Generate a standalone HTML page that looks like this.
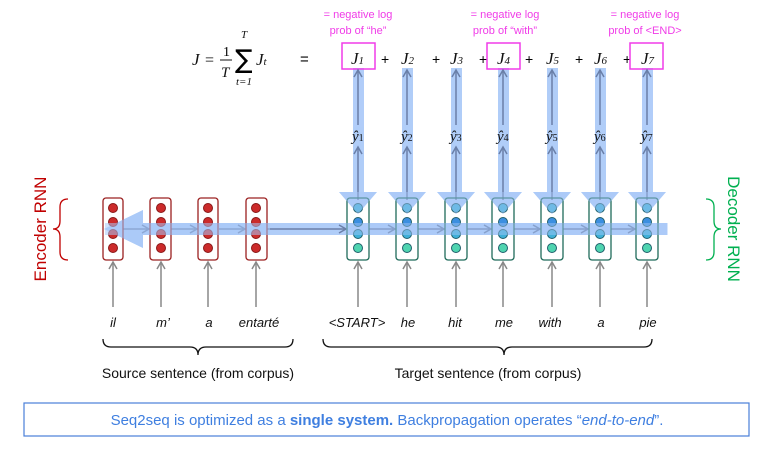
<!DOCTYPE html>
<html><head><meta charset="utf-8"><style>
body{margin:0;background:#fff;}
svg{display:block;font-family:"Liberation Sans",sans-serif;}
.w{font-style:italic;font-size:13px;fill:#111;text-anchor:middle;}
.m{font-family:"Liberation Serif",serif;font-style:italic;fill:#111;}
.p{fill:#111;text-anchor:middle;}
.pk{font-size:11px;fill:#f03ce8;text-anchor:middle;}
</style></head><body>
<svg width="774" height="453" viewBox="0 0 774 453">
<defs>
<marker id="ga" markerWidth="10" markerHeight="10" refX="8" refY="5" orient="auto" markerUnits="userSpaceOnUse"><path d="M1,1 L8,5 L1,9" fill="none" stroke="#888" stroke-width="1.5"/></marker>
<marker id="ba" markerWidth="10" markerHeight="10" refX="8" refY="5" orient="auto" markerUnits="userSpaceOnUse"><path d="M1,1 L8,5 L1,9" fill="none" stroke="#6a7fa8" stroke-width="1.5"/></marker>
</defs>
<!-- formula -->
<text x="192" y="65" class="m" style="font-size:17px">J</text>
<text x="205" y="65" style="font-family:'Liberation Serif';font-size:16px">=</text>
<text x="223" y="56" style="font-family:'Liberation Serif';font-size:14px">1</text>
<line x1="220" y1="60" x2="232" y2="60" stroke="#111"/>
<text x="221" y="77" class="m" style="font-size:15px">T</text>
<text x="235" y="68" style="font-family:'DejaVu Sans';font-size:26px">∑</text>
<text x="241" y="38" class="m" style="font-size:11px">T</text>
<text x="236" y="85" class="m" style="font-size:11px">t=1</text>
<text x="256" y="65" class="m" style="font-size:17px">J<tspan style="font-size:11px">t</tspan></text>
<text x="300" y="64" style="font-size:15px">=</text>
<!-- blue columns -->
<g fill="#a8c8f8" opacity="0.9">
<rect x="353" y="68" width="11" height="126"/><polygon points="339,192 377,192 358,214"/>
<rect x="402" y="68" width="11" height="126"/><polygon points="388,192 426,192 407,214"/>
<rect x="451" y="68" width="11" height="126"/><polygon points="437,192 475,192 456,214"/>
<rect x="498" y="68" width="11" height="126"/><polygon points="484,192 522,192 503,214"/>
<rect x="547" y="68" width="11" height="126"/><polygon points="533,192 571,192 552,214"/>
<rect x="595" y="68" width="11" height="126"/><polygon points="581,192 619,192 600,214"/>
<rect x="642" y="68" width="11" height="126"/><polygon points="628,192 666,192 647,214"/>
<rect x="130" y="223" width="537" height="12"/>
<polygon points="104,229 143,210 143,248"/>
</g>
<!-- J terms -->
<g class="m" style="font-size:17px">
<text x="351" y="64">J<tspan style="font-size:11px">1</tspan></text>
<text x="401" y="64">J<tspan style="font-size:11px">2</tspan></text>
<text x="450" y="64">J<tspan style="font-size:11px">3</tspan></text>
<text x="497" y="64">J<tspan style="font-size:11px">4</tspan></text>
<text x="546" y="64">J<tspan style="font-size:11px">5</tspan></text>
<text x="594" y="64">J<tspan style="font-size:11px">6</tspan></text>
<text x="641" y="64">J<tspan style="font-size:11px">7</tspan></text>
</g>
<g style="font-size:14px"><text x="381" y="64">+</text><text x="432" y="64">+</text><text x="479" y="64">+</text><text x="525" y="64">+</text><text x="575" y="64">+</text><text x="623" y="64">+</text></g>
<g fill="none" stroke="#f03ce8" stroke-width="1.5">
<rect x="342" y="43" width="33" height="26"/><rect x="487" y="43" width="33" height="26"/><rect x="630" y="43" width="33" height="26"/>
</g>
<text x="358" y="18" class="pk">= negative log</text><text x="358" y="34" class="pk">prob of “he”</text>
<text x="505" y="18" class="pk">= negative log</text><text x="505" y="34" class="pk">prob of “with”</text>
<text x="645" y="18" class="pk">= negative log</text><text x="645" y="34" class="pk">prob of &lt;END&gt;</text>
<!-- vertical arrows & yhat -->
<g stroke="#6a7fa8" stroke-width="1.5">
<line x1="358" y1="125" x2="358" y2="70" marker-end="url(#ba)"/><line x1="358" y1="200" x2="358" y2="147" marker-end="url(#ba)"/>
<line x1="407" y1="125" x2="407" y2="70" marker-end="url(#ba)"/><line x1="407" y1="200" x2="407" y2="147" marker-end="url(#ba)"/>
<line x1="456" y1="125" x2="456" y2="70" marker-end="url(#ba)"/><line x1="456" y1="200" x2="456" y2="147" marker-end="url(#ba)"/>
<line x1="503" y1="125" x2="503" y2="70" marker-end="url(#ba)"/><line x1="503" y1="200" x2="503" y2="147" marker-end="url(#ba)"/>
<line x1="552" y1="125" x2="552" y2="70" marker-end="url(#ba)"/><line x1="552" y1="200" x2="552" y2="147" marker-end="url(#ba)"/>
<line x1="600" y1="125" x2="600" y2="70" marker-end="url(#ba)"/><line x1="600" y1="200" x2="600" y2="147" marker-end="url(#ba)"/>
<line x1="647" y1="125" x2="647" y2="70" marker-end="url(#ba)"/><line x1="647" y1="200" x2="647" y2="147" marker-end="url(#ba)"/>
</g>
<g class="m" style="font-size:15px">
<text x="352" y="141">ŷ<tspan style="font-size:10px;font-style:normal">1</tspan></text><text x="401" y="141">ŷ<tspan style="font-size:10px;font-style:normal">2</tspan></text>
<text x="450" y="141">ŷ<tspan style="font-size:10px;font-style:normal">3</tspan></text><text x="497" y="141">ŷ<tspan style="font-size:10px;font-style:normal">4</tspan></text>
<text x="546" y="141">ŷ<tspan style="font-size:10px;font-style:normal">5</tspan></text><text x="594" y="141">ŷ<tspan style="font-size:10px;font-style:normal">6</tspan></text>
<text x="641" y="141">ŷ<tspan style="font-size:10px;font-style:normal">7</tspan></text>
</g>
<!-- horizontal arrows -->
<g stroke="#6a7fa8" stroke-width="1.5">
<line x1="123" y1="229" x2="149" y2="229" marker-end="url(#ba)"/><line x1="171" y1="229" x2="197" y2="229" marker-end="url(#ba)"/>
<line x1="219" y1="229" x2="245" y2="229" marker-end="url(#ba)"/><line x1="267" y1="229" x2="346" y2="229" marker-end="url(#ba)"/>
<line x1="369" y1="229" x2="395" y2="229" marker-end="url(#ba)"/><line x1="418" y1="229" x2="444" y2="229" marker-end="url(#ba)"/>
<line x1="467" y1="229" x2="491" y2="229" marker-end="url(#ba)"/><line x1="514" y1="229" x2="540" y2="229" marker-end="url(#ba)"/>
<line x1="563" y1="229" x2="588" y2="229" marker-end="url(#ba)"/><line x1="611" y1="229" x2="635" y2="229" marker-end="url(#ba)"/>
</g>
<!-- encoder cells -->
<g fill="none" stroke="#9b2020" stroke-width="1.3">
<rect x="103" y="198" width="20" height="62" rx="3"/><rect x="150" y="198" width="21" height="62" rx="3"/>
<rect x="198" y="198" width="20" height="62" rx="3"/><rect x="246" y="198" width="21" height="62" rx="3"/>
</g>
<g fill="#cc2b2b" stroke="#8a1818" stroke-width="1">
<circle cx="113" cy="208" r="4.5"/><circle cx="113" cy="222" r="4.5"/><circle cx="113" cy="234" r="4.5"/><circle cx="113" cy="248" r="4.5"/>
<circle cx="161" cy="208" r="4.5"/><circle cx="161" cy="222" r="4.5"/><circle cx="161" cy="234" r="4.5"/><circle cx="161" cy="248" r="4.5"/>
<circle cx="208" cy="208" r="4.5"/><circle cx="208" cy="222" r="4.5"/><circle cx="208" cy="234" r="4.5"/><circle cx="208" cy="248" r="4.5"/>
<circle cx="256" cy="208" r="4.5"/><circle cx="256" cy="222" r="4.5"/><circle cx="256" cy="234" r="4.5"/><circle cx="256" cy="248" r="4.5"/>
</g>
<g fill="#a8c8f8" opacity="0.55"><rect x="105" y="223" width="165" height="12"/><polygon points="104,229 143,210 143,248"/></g>
<!-- decoder cells -->
<g fill="none" stroke="#1f6b5a" stroke-width="1.3">
<rect x="347" y="198" width="22" height="62" rx="3"/><rect x="396" y="198" width="22" height="62" rx="3"/>
<rect x="445" y="198" width="22" height="62" rx="3"/><rect x="492" y="198" width="22" height="62" rx="3"/>
<rect x="541" y="198" width="22" height="62" rx="3"/><rect x="589" y="198" width="22" height="62" rx="3"/>
<rect x="636" y="198" width="22" height="62" rx="3"/>
</g>
<g stroke="#1f5f6b" stroke-width="1">
<g fill="#3fb0d8"><circle cx="358" cy="208" r="4.5"/><circle cx="407" cy="208" r="4.5"/><circle cx="456" cy="208" r="4.5"/><circle cx="503" cy="208" r="4.5"/><circle cx="552" cy="208" r="4.5"/><circle cx="600" cy="208" r="4.5"/><circle cx="647" cy="208" r="4.5"/></g>
<g fill="#3c8fe0"><circle cx="358" cy="222" r="4.5"/><circle cx="407" cy="222" r="4.5"/><circle cx="456" cy="222" r="4.5"/><circle cx="503" cy="222" r="4.5"/><circle cx="552" cy="222" r="4.5"/><circle cx="600" cy="222" r="4.5"/><circle cx="647" cy="222" r="4.5"/></g>
<g fill="#3fb0d8"><circle cx="358" cy="234" r="4.5"/><circle cx="407" cy="234" r="4.5"/><circle cx="456" cy="234" r="4.5"/><circle cx="503" cy="234" r="4.5"/><circle cx="552" cy="234" r="4.5"/><circle cx="600" cy="234" r="4.5"/><circle cx="647" cy="234" r="4.5"/></g>
<g fill="#4fd4b0"><circle cx="358" cy="248" r="4.5"/><circle cx="407" cy="248" r="4.5"/><circle cx="456" cy="248" r="4.5"/><circle cx="503" cy="248" r="4.5"/><circle cx="552" cy="248" r="4.5"/><circle cx="600" cy="248" r="4.5"/><circle cx="647" cy="248" r="4.5"/></g>
</g>
<g fill="#a8c8f8" opacity="0.45">
<rect x="346" y="223" width="322" height="12"/>
<polygon points="339,192 377,192 358,214"/><polygon points="388,192 426,192 407,214"/><polygon points="437,192 475,192 456,214"/><polygon points="484,192 522,192 503,214"/><polygon points="533,192 571,192 552,214"/><polygon points="581,192 619,192 600,214"/><polygon points="628,192 666,192 647,214"/>
</g>
<!-- input arrows -->
<g stroke="#888" stroke-width="1.5">
<line x1="113" y1="307" x2="113" y2="262" marker-end="url(#ga)"/><line x1="161" y1="307" x2="161" y2="262" marker-end="url(#ga)"/>
<line x1="208" y1="307" x2="208" y2="262" marker-end="url(#ga)"/><line x1="256" y1="307" x2="256" y2="262" marker-end="url(#ga)"/>
<line x1="358" y1="307" x2="358" y2="262" marker-end="url(#ga)"/><line x1="407" y1="307" x2="407" y2="262" marker-end="url(#ga)"/>
<line x1="456" y1="307" x2="456" y2="262" marker-end="url(#ga)"/><line x1="503" y1="307" x2="503" y2="262" marker-end="url(#ga)"/>
<line x1="552" y1="307" x2="552" y2="262" marker-end="url(#ga)"/><line x1="600" y1="307" x2="600" y2="262" marker-end="url(#ga)"/>
<line x1="647" y1="307" x2="647" y2="262" marker-end="url(#ga)"/>
</g>
<g class="w">
<text x="113" y="327">il</text><text x="163" y="327">m’</text><text x="209" y="327">a</text><text x="259" y="327">entarté</text>
<text x="357" y="327">&lt;START&gt;</text><text x="408" y="327">he</text><text x="455" y="327">hit</text><text x="504" y="327">me</text>
<text x="550" y="327">with</text><text x="601" y="327">a</text><text x="648" y="327">pie</text>
</g>
<!-- braces -->
<g fill="none" stroke="#111" stroke-width="1.3">
<path d="M103,339 Q103,347 111,347 L190,347 Q198,347 198,355 Q198,347 206,347 L285,347 Q293,347 293,339"/>
<path d="M323,339 Q323,347 331,347 L496,347 Q504,347 504,355 Q504,347 512,347 L644,347 Q652,347 652,339"/>
</g>
<text x="198" y="378" class="p" style="font-size:14px">Source sentence (from corpus)</text>
<text x="488" y="378" class="p" style="font-size:14px">Target sentence (from corpus)</text>
<g fill="none" stroke-width="1.3">
<path d="M68,199 Q60,199 60,207 L60,221 Q60,229 53,229 Q60,229 60,237 L60,252 Q60,260 68,260" stroke="#c00000"/>
<path d="M706,199 Q714,199 714,207 L714,221 Q714,229 721,229 Q714,229 714,237 L714,252 Q714,260 706,260" stroke="#00b050"/>
</g>
<text transform="translate(46,229) rotate(-90)" text-anchor="middle" style="font-size:17px" fill="#c00000">Encoder RNN</text>
<text transform="translate(728,229) rotate(90)" text-anchor="middle" style="font-size:17px" fill="#00b050">Decoder RNN</text>
<rect x="24" y="403" width="725" height="33" fill="#fff" stroke="#4a7fd8" stroke-width="1.2"/>
<text x="387" y="425" text-anchor="middle" style="font-size:15px" fill="#3f7fe0">Seq2seq is optimized as a <tspan font-weight="bold">single system.</tspan> Backpropagation operates “<tspan font-style="italic">end-to-end</tspan>”.</text>
</svg>
</body></html>
